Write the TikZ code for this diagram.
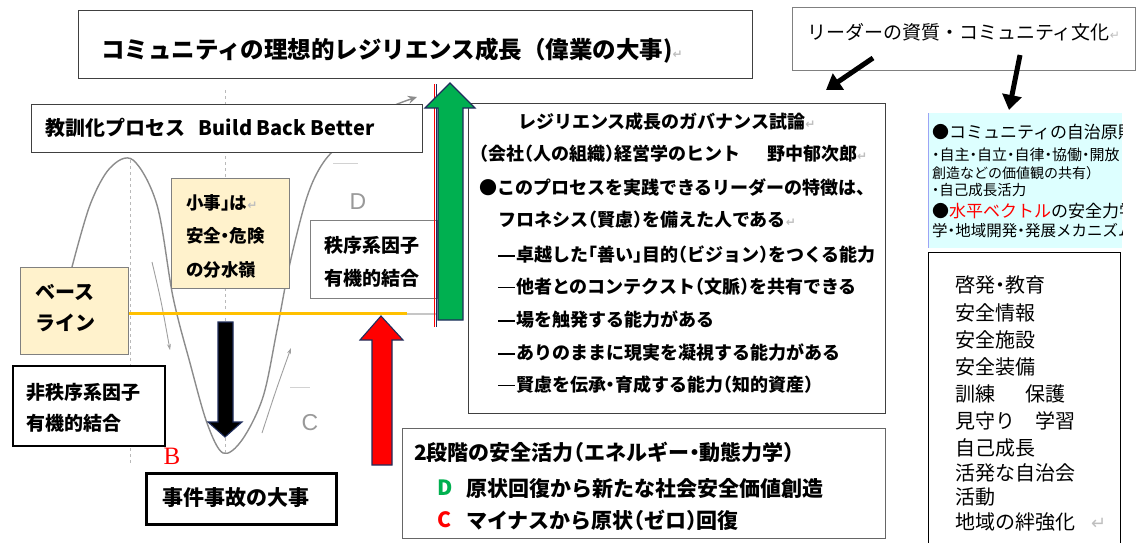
\documentclass[tikz,border=0pt]{standalone}
\usepackage{fontspec}
\setmainfont{Noto Sans CJK JP}
\newfontfamily\jph{Noto Sans CJK JP}[RawFeature=+halt]
\newfontfamily\dv{DejaVu Sans}
\newfontfamily\lserif{Liberation Serif}
\newfontfamily\lsans{Liberation Sans}
\usetikzlibrary{arrows.meta}
\definecolor{dkgray}{HTML}{404040}
\definecolor{midgray}{HTML}{808080}
\definecolor{curvegray}{HTML}{8C8C8C}
\definecolor{lyellow}{HTML}{FFF2CC}
\definecolor{orangeline}{HTML}{FFC000}
\definecolor{agreen}{HTML}{00B050}
\definecolor{navy}{HTML}{1F2D5C}
\definecolor{lcyan}{HTML}{DDFFFF}
\definecolor{lblue}{HTML}{9DA3F5}
\newcommand{\fz}[1]{\fontsize{#1}{#1}\selectfont}
\newcommand{\ret}{{\dv\color{gray!50}\fontsize{12}{12}\selectfont ↵}}
\newcommand{\dsh}{\rule[0.3em]{0.95em}{1.7pt}\hspace{0.05em}}
\begin{document}
\begin{tikzpicture}[x=1pt,y=-1pt,
  t/.style={anchor=west, inner sep=0pt, outer sep=0pt},
  box/.style={draw=#1, fill=white, line width=1pt, anchor=north west, inner sep=0pt},
  box/.default=dkgray,
  blockarrow/.style={draw=navy, line width=1.1pt, line join=miter},
  leadarrow/.style={line width=5pt, -{Triangle[length=15pt,width=19pt]}}]
\useasboundingbox (0,0) rectangle (1140,543);
\fill[white] (0,0) rectangle (1140,543);

% background curve
\draw[curvegray, line width=1.4pt, -{Stealth[length=9pt,width=8pt]}]
  plot[smooth, tension=0.55] coordinates {(72,267) (90,205) (110,168) (133,160) (157,205) (173,297) (190,363) (207,423) (223,453) (242,440) (263,397) (277,330) (290,263) (307,197) (323,163) (345,140) (380,112) (417,97)};
\draw[gray!55, dashed, line width=1pt] (130,160) -- (130,465);
\draw[gray!55, dashed, line width=1pt] (225,90) -- (225,452);
\draw[gray!75, line width=0.9pt, -{Stealth[length=6pt,width=4pt]}] (152,262) .. controls (161,300) .. (170,350);
\draw[gray!75, line width=0.9pt, -{Stealth[length=6pt,width=4pt]}] (262,433) .. controls (276,390) .. (291,348);
\draw[gray!35, line width=1pt] (290,387) -- (310,387);
\draw[gray!35, line width=1pt] (333,163) -- (358,163);

% boxes
\node[box, minimum width=674pt, minimum height=68pt] (title) at (78,10) {};
\node[t, font=\bfseries\fz{23.5}] (titletxt) at (101,51) {コミュニティの理想的レジリエンス成長（偉業の大事)\ret};

\node[box=midgray, minimum width=343pt, minimum height=63pt] (leader) at (792,7) {};
\node[t, font=\fz{19}] (leadertxt) at (807,32) {リーダーの資質・コミュニティ文化\ret};

\node[box, minimum width=391pt, minimum height=48pt] (bbb) at (31,104) {};
\node[t, font=\bfseries\fz{20}] (bbbtxt) at (45,128) {教訓化プロセス\hspace{0.7em}Build Back Better};

\node[box=midgray, fill=lyellow, minimum width=118pt, minimum height=110pt] (shoji) at (171,178) {};
\node[t, font=\jph\bfseries\fz{17.5}] (shoji1) at (186,203) {小事」は\ret};
\node[t, font=\jph\bfseries\fz{17.5}] (shoji2) at (186,236) {安全・危険};
\node[t, font=\jph\bfseries\fz{17.5}] (shoji3) at (186,270) {の分水嶺};

\node[font=\lsans\fz{23}, text=gray!80, inner sep=0pt] (dlabel) at (358,202) {D};

\node[box=midgray, minimum width=127pt, minimum height=78pt] (chitsu) at (310,220) {};
\node[t, font=\bfseries\fz{19}] (chitsu1) at (324,245) {秩序系因子};
\node[t, font=\bfseries\fz{19}] (chitsu2) at (324,278) {有機的結合};

\node[box=midgray, fill=lyellow, minimum width=108pt, minimum height=87pt] (base) at (20,267) {};
\node[t, font=\bfseries\fz{20}] (base1) at (35,292) {ベース};
\node[t, font=\bfseries\fz{20}] (base2) at (35,323) {ライン};

\node[box=black, line width=2pt, minimum width=152pt, minimum height=80pt] (hichitsu) at (12,365) {};
\node[t, font=\bfseries\fz{19}] (hichitsu1) at (27,392) {非秩序系因子};
\node[t, font=\bfseries\fz{19}] (hichitsu2) at (27,423) {有機的結合};

\node[font=\lserif\fz{25}, text=red, inner sep=0pt] (blabel) at (172,456) {B};
\node[font=\lsans\fz{23}, text=gray!80, inner sep=0pt] (clabel) at (310,423) {C};

\node[box=black, line width=3pt, minimum width=190pt, minimum height=51pt] (jiken) at (145,472) {};
\node[t, font=\bfseries\fz{21}] (jikentxt) at (162,498) {事件事故の大事};

% governance box
\node[box, line width=1.2pt, minimum width=417pt, minimum height=310pt] (gov) at (468,103) {};
\begin{scope}[every node/.style={t, font=\jph\bfseries\fz{18}}]
\node (g1) at (518,122) {レジリエンス成長のガバナンス試論\ret};
\node (g2) at (479,154) {（会社（人の組織）経営学のヒント};
\node (g2b) at (767,154) {野中郁次郎\ret};
\node (g3) at (479,188) {●このプロセスを実践できるリーダーの特徴は、};
\node (g4) at (498,220) {フロネシス（賢慮）を備えた人である\ret};
\node (g5) at (498,255) {\dsh 卓越した「善い」目的（ビジョン）をつくる能力};
\node (g6) at (498,287) {\dsh 他者とのコンテクスト（文脈）を共有できる};
\node (g7) at (498,320) {\dsh 場を触発する能力がある};
\node (g8) at (498,353) {\dsh ありのままに現実を凝視する能力がある};
\node (g9) at (498,385) {\dsh 賢慮を伝承・育成する能力（知的資産）};
\end{scope}

% two-stage box
\node[box=dkgray!80, line width=1.2pt, minimum width=483pt, minimum height=110pt] (two) at (402,428) {};
\node[t, font=\jph\bfseries\fz{21}] (two1) at (414,452) {2段階の安全活力（エネルギー・動態力学）};
\node[t, font=\bfseries\fz{21}, text=agreen] (twoD) at (437,488) {D};
\node[t, font=\bfseries\fz{21}] (two2) at (466,488) {原状回復から新たな社会安全価値創造};
\node[t, font=\bfseries\fz{21}, text=red] (twoC) at (437,520) {C};
\node[t, font=\jph\bfseries\fz{21}] (two3) at (466,520) {マイナスから原状（ゼロ）回復};

% cyan box
\fill[lcyan] (928,113) rectangle (1122,248);
\draw[lblue, line width=1.5pt] (928.5,113) -- (928.5,248);
\begin{scope}
\clip (928,113) rectangle (1122,248);
\node[t, font=\fz{17}] (cy1) at (932,132) {●コミュニティの自治原則};
\node[t, font=\jph\fz{15}] (cy2) at (932,155) {・自主・自立・自律・協働・開放};
\node[t, font=\jph\fz{14}] (cy3) at (932,173) {創造などの価値観の共有）};
\node[t, font=\jph\fz{14.5}] (cy4) at (932,190) {・自己成長活力};
\node[t, font=\fz{17}] (cy5) at (932,211) {●\textcolor{red}{水平ベクトル}の安全力学};
\node[t, font=\jph\fz{15.5}] (cy6) at (932,231) {学・地域開発・発展メカニズム};
\end{scope}

% list box
\node[box=black, minimum width=192pt, minimum height=300pt] (list) at (928,252) {};
\begin{scope}[every node/.style={t, font=\jph\fz{20}}]
\node (l1) at (955,285) {啓発・教育};
\node (l2) at (955,313) {安全情報};
\node (l3) at (955,340) {安全施設};
\node (l4) at (955,367) {安全装備};
\node (l5) at (955,394) {訓練\hspace{1.5em}保護};
\node (l6) at (955,421) {見守り\hspace{1em}学習};
\node (l7) at (955,448) {自己成長};
\node (l8) at (955,473) {活発な自治会};
\node (l9) at (955,497) {活動};
\node (l10) at (955,522) {地域の絆強化\hspace{0.8em}{\dv\color{gray!50}\fz{18}↵}};
\end{scope}

% baseline
\draw[gray!45, line width=2pt] (407,314) -- (436,314);
\draw[orangeline, line width=3pt] (base.east |- 0,313) -- (407,313);

% leader arrows
\coordinate (la1) at (873,58);
\coordinate (la2) at (826,90);
\coordinate (lb1) at (1020,55);
\coordinate (lb2) at (1009,110);
\draw[leadarrow] (la1) -- (la2);
\draw[leadarrow] (lb1) -- (lb2);

% block arrows
\draw[red, line width=1.8pt] (434.5,84) -- (434.5,327);
\draw[navy, line width=0.8pt] (436.5,84) -- (436.5,327);
\draw[blockarrow, fill=agreen] (438,320) -- (438,108) -- (425,108) -- (450,83) -- (475,108) -- (463,108) -- (463,320) -- cycle;
\draw[blockarrow, fill=red] (372,465) -- (372,340) -- (360,340) -- (381,316) -- (403,340) -- (392,340) -- (392,465) -- cycle;
\draw[blockarrow, fill=black] (218,322) -- (218,422) -- (208,422) -- (225,437) -- (242,422) -- (233,422) -- (233,322) -- cycle;
\end{tikzpicture}
\end{document}
